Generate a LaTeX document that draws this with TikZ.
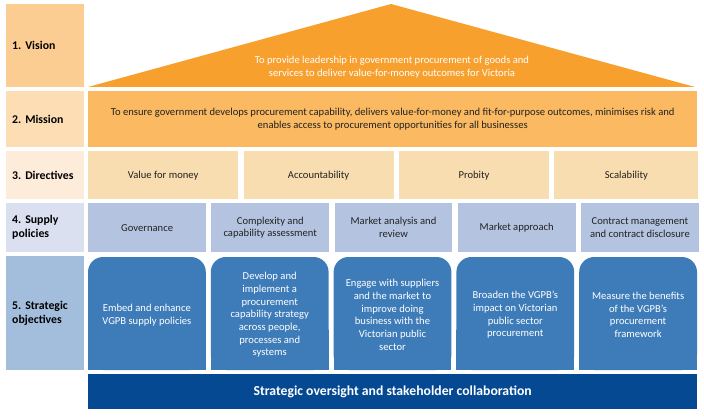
\documentclass[tikz,border=0pt]{standalone}
\usepackage{fontspec}
\setmainfont{Carlito}
\usepackage{tikz}
\usetikzlibrary{positioning}
\frenchspacing
\definecolor{visionlbl}{HTML}{FCCD93}
\definecolor{missionlbl}{HTML}{FDDDB4}
\definecolor{dirlbl}{HTML}{FDECDA}
\definecolor{suplbl}{HTML}{DAE0F0}
\definecolor{objlbl}{HTML}{A3BEDC}
\definecolor{visionfill}{HTML}{F7A02E}
\definecolor{missionfill}{HTML}{FBB961}
\definecolor{dirfill}{HTML}{F8DDB0}
\definecolor{supfill}{HTML}{B4C4E0}
\definecolor{objfill}{HTML}{3E7CB9}
\definecolor{barfill}{HTML}{044992}
\definecolor{darktext}{HTML}{222222}

\begin{document}
\begin{tikzpicture}[x=1pt, y=-1pt,
          lbl/.style={anchor=north west, text width=66pt, inner xsep=6pt,
                      inner ysep=0pt, align=left, text=black,
                      font=\fontsize{11.8}{14}\selectfont\bfseries},
          body/.style={align=center, inner sep=0pt, text=darktext,
                       font=\fontsize{10.6}{12.7}\selectfont},
          dirbox/.style={body, anchor=north west, fill=dirfill,
                         minimum height=48pt},
          supbox/.style={body, anchor=north west, fill=supfill,
                         minimum width=117.8pt, minimum height=49pt},
          objtext/.style={body, text=white}
        ]
          \useasboundingbox (0,0) rectangle (704,417);

          % row labels
          \node[lbl, fill=visionlbl,  minimum height=83pt]  (L1) at (6,4)   {1. Vision};
          \node[lbl, fill=missionlbl, minimum height=56pt]  (L2) at (6,91)  {2. Mission};
          \node[lbl, fill=dirlbl,     minimum height=48pt]  (L3) at (6,151) {3. Directives};
          \node[lbl, fill=suplbl,     minimum height=49pt]  (L4) at (6,203) {4. Supply\\policies};
          \node[lbl, fill=objlbl,     minimum height=114pt] (L5) at (6,256) {5. Strategic\\objectives};

          % vision roof
          \fill[visionfill] (88,87) -- (391,4) -- (695,87) -- cycle;
          \node[body, text=white] (V) at (392,67)
            {To provide leadership in government procurement of goods and\\
             services to deliver value-for-money outcomes for Victoria};

          \node[body, anchor=north west, fill=missionfill, minimum width=609pt,
                minimum height=56pt] (M) at (88,91)
            {To ensure government develops procurement capability, delivers value-for-money and fit-for-purpose outcomes, minimises risk and\\
             enables access to procurement opportunities for all businesses};

          \node[dirbox, minimum width=150pt] (D1) at (88,151) {Value for money};
          \node[dirbox, minimum width=150pt] (D2) [right=5pt of D1] {Accountability};
          \node[dirbox, minimum width=150pt] (D3) [right=5pt of D2] {Probity};
          \node[dirbox, minimum width=144pt] (D4) [right=5pt of D3] {Scalability};

          \node[supbox] (S1) at (88,203) {Governance};
          \node[supbox] (S2) [right=5pt of S1] {Complexity and\\capability assessment};
          \node[supbox] (S3) [right=5pt of S2] {Market analysis and\\review};
          \node[supbox] (S4) [right=5pt of S3] {Market approach};
          \node[supbox] (S5) [right=5pt of S4] {Contract management\\and contract disclosure};

          % strategic objectives
          \foreach \xl/\txt [count=\i] in {
              88/{Embed and enhance\\VGPB supply policies},
              210.8/{Develop and\\implement a\\procurement\\capability strategy\\across people,\\processes and\\systems},
              333.6/{Engage with suppliers\\and the market to\\improve doing\\business with the\\Victorian public\\sector},
              456.4/{Broaden the VGPB’s\\impact on Victorian\\public sector\\procurement},
              579.2/{Measure the benefits\\of the VGPB’s\\procurement\\framework}} {
            \fill[objfill, rounded corners=15pt] (\xl,257) rectangle +(117.8,113);
            \fill[objfill] (\xl,330) rectangle +(117.8,40);
            \node[objtext] (O\i) at (\xl+58.9,315) {\txt};
          }

          \node[anchor=north west, fill=barfill, minimum width=609pt, minimum height=35pt,
                inner sep=0pt, text=white, font=\fontsize{13.7}{16}\selectfont\bfseries]
                (B) at (88,374) {Strategic oversight and stakeholder collaboration};
        \end{tikzpicture}
\end{document}
